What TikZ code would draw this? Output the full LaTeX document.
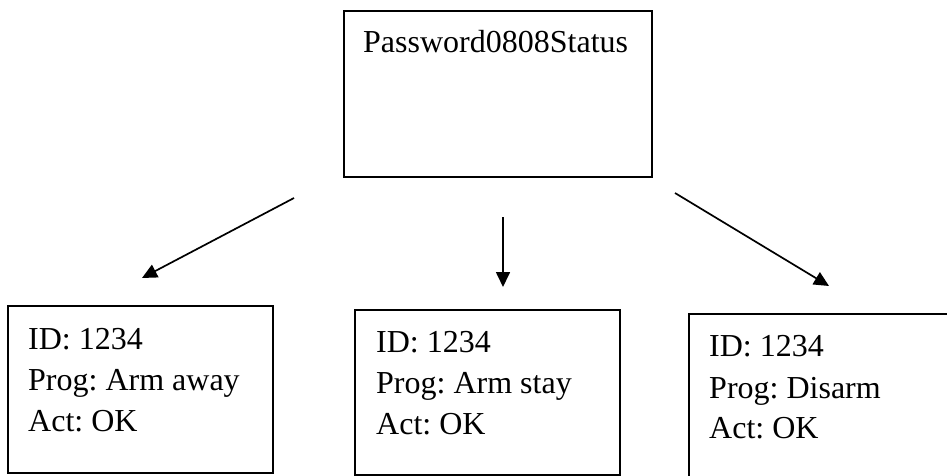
\documentclass[tikz,border=0pt]{standalone}
\usepackage{fontspec}
\setmainfont{Liberation Serif}
\usetikzlibrary{arrows.meta}
\frenchspacing
\begin{document}
\begin{tikzpicture}[x=1pt,y=-1pt,
  boxnode/.style={draw=black,line width=1.8pt,rectangle,inner sep=0pt,anchor=north west},
  txt/.style={anchor=base west,inner sep=0pt,font=\fontsize{32}{41}\selectfont\frenchspacing},
  arr/.style={line width=1.7pt,-{Triangle[length=15pt,width=14pt]}}]
\clip (0,0) rectangle (947,476);
\fill[white] (0,0) rectangle (947,476);
% top box
\node[boxnode,minimum width=308pt,minimum height=166pt] (top) at (343,10) {};
\node[txt] (ttxt) at (363,53) {Password0808Status};
% left box
\node[boxnode,minimum width=265pt,minimum height=167pt] (lbox) at (7,305) {};
\node[txt] (la) at (28,349) {ID: 1234};
\node[txt] (lb) at (28,390) {Prog: Arm away};
\node[txt] (lc) at (28,431) {Act: OK};
% middle box
\node[boxnode,minimum width=265pt,minimum height=165pt] (mbox) at (354,309) {};
\node[txt] (ma) at (376,352) {ID: 1234};
\node[txt] (mb) at (376,393) {Prog: Arm stay};
\node[txt] (mc) at (376,434) {Act: OK};
% right box (runs off the page)
\node[boxnode,minimum width=280pt,minimum height=180pt] (rbox) at (688,313) {};
\node[txt] (ra) at (709,356) {ID: 1234};
\node[txt] (rb) at (709,398) {Prog: Disarm};
\node[txt] (rc) at (709,438) {Act: OK};
% arrows
\coordinate (a1s) at (294,198);
\coordinate (a1e) at (142,278);
\coordinate (a2s) at (503,217);
\coordinate (a2e) at (503,287);
\coordinate (a3s) at (675,193);
\coordinate (a3e) at (829,286);
\draw[arr] (a1s) -- (a1e);
\draw[arr] (a2s) -- (a2e);
\draw[arr] (a3s) -- (a3e);
\end{tikzpicture}
\end{document}
